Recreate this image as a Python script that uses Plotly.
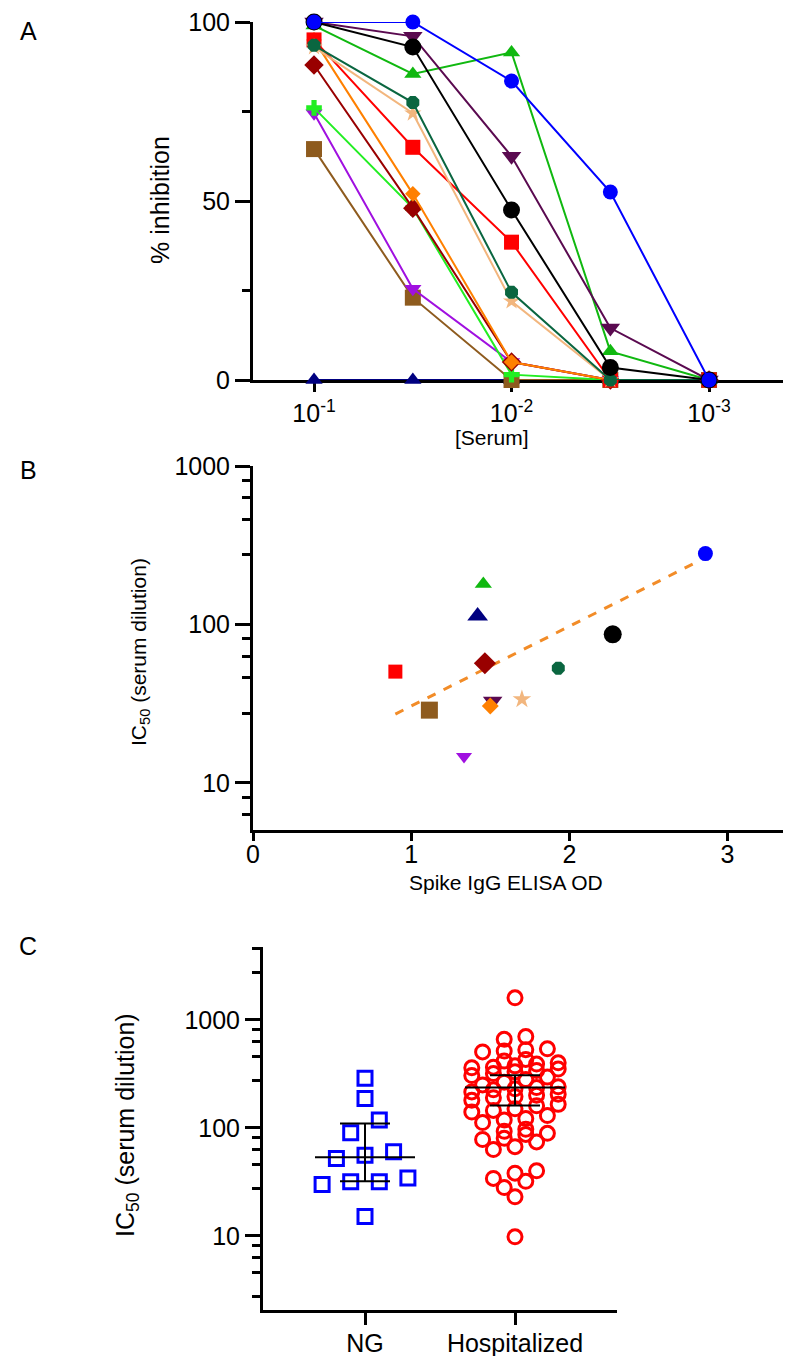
import numpy as np
import plotly.graph_objects as go

# The page body adds an 8 px margin, so the figure is sized/positioned to compensate.
PAGE_W, PAGE_H = 791, 1356
OFF = 8
W, H = PAGE_W - OFF, PAGE_H - OFF
FONT = "Liberation Sans, Arial, sans-serif"

# ---------------- Panel A data ----------------
dilution = [0.1, 0.0316, 0.01, 0.00316, 0.001]
dilution_ticks = [0.1, 0.01, 0.001]
dilution_ticktext = ["10<sup>-1</sup>", "10<sup>-2</sup>", "10<sup>-3</sup>"]

inh_navy = [0, 0, 0, 0, 0]
inh_brown = [64.5, 23, 0, 0, 0]
inh_purple = [74.5, 25.5, 5, 0, 0]
inh_lime = [76, 48, 1.5, 0, 0]
inh_darkred = [88, 48, 5, 0, 0]
inh_orange = [95, 52, 5, 0, 0]
inh_red = [95, 65, 38.5, 0, 0]
inh_tan = [93, 74.5, 22, 0, 0]
inh_darkgreen = [93.5, 77.5, 24.5, 0, 0]
inh_green = [99, 85.5, 91.5, 8, 0]
inh_plum = [100, 96, 62.5, 14.5, 0]
inh_black = [100, 93, 47.5, 3.5, 0]
inh_blue = [100, 100, 83.5, 52.5, 0]

# ---------------- Panel B data ----------------
od_vals = {"navy": 1.42, "brown": 1.115, "purple": 1.334, "darkred": 1.466,
           "orange": 1.50, "red": 0.90, "tan": 1.70, "darkgreen": 1.93,
           "green": 1.456, "plum": 1.515, "black": 2.274, "blue": 2.86}
ic50_vals = {"navy": 113, "brown": 28.8, "purple": 14.7, "darkred": 56.9,
             "orange": 30.6, "red": 50.4, "tan": 33.7, "darkgreen": 53,
             "green": 180, "plum": 32.9, "black": 86.7, "blue": 280}
fit_od = [0.90, 2.83]
fit_ic50 = [27.2, 255]

# ---------------- Panel C data ----------------
groups = ["NG", "Hospitalized"]
ng_ic50 = [288, 187, 118, 90, 60, 55.8, 52, 34.4, 31.6, 31.6, 29.8, 15.1]
hosp_ic50 = [1600, 700, 660, 540, 530, 515, 505, 430, 415, 400, 390, 375, 365,
             360, 350, 340, 330, 318, 305, 295, 280, 265, 250, 240, 236, 230,
             225, 215, 205, 200, 195, 190, 180, 165, 160, 150, 145, 140, 130,
             122, 118, 112, 97, 93, 89, 87, 80, 78, 74, 67, 63, 40, 38, 34, 32,
             28, 23, 9.8]
ng_stats = [53.5, 32, 110]        # median, low, high
hosp_stats = [236, 161, 307]

# ---------------- styles ----------------
colors = {"navy": "#000080", "brown": "#8E5B1E", "purple": "#A010E0",
          "lime": "#22EE22", "darkred": "#990000", "orange": "#FF8000",
          "red": "#FF0000", "tan": "#F2B67E", "darkgreen": "#0A6640",
          "green": "#10B810", "plum": "#5A0A50", "black": "#000000",
          "blue": "#0000FF"}
symbols = {"navy": "triangle-up", "brown": "square", "purple": "triangle-down",
           "lime": "cross", "darkred": "diamond", "orange": "diamond",
           "red": "square", "tan": "star", "darkgreen": "octagon",
           "green": "triangle-up", "plum": "triangle-down", "black": "circle",
           "blue": "circle"}
size_a = {"navy": 15, "brown": 16, "purple": 15, "lime": 13, "darkred": 15,
          "orange": 12, "red": 15, "tan": 13, "darkgreen": 14, "green": 15,
          "plum": 17, "black": 17, "blue": 15}
size_b = {"navy": 18, "brown": 17, "purple": 14, "darkred": 17, "orange": 13,
          "red": 14, "tan": 14, "darkgreen": 14, "green": 15, "plum": 17,
          "black": 18, "blue": 15}

series_a = [("navy", inh_navy), ("brown", inh_brown), ("purple", inh_purple),
            ("lime", inh_lime), ("darkred", inh_darkred), ("orange", inh_orange),
            ("red", inh_red), ("tan", inh_tan), ("darkgreen", inh_darkgreen),
            ("green", inh_green), ("plum", inh_plum), ("black", inh_black),
            ("blue", inh_blue)]

def px_x(p):
    return (p - OFF) / W

def px_y(p):
    return 1 - (p - OFF) / H

fig = go.Figure()

for key, vals in series_a:
    fig.add_trace(go.Scatter(
        x=dilution, y=vals, mode="lines+markers", xaxis="x", yaxis="y",
        line=dict(color=colors[key], width=2),
        marker=dict(symbol=symbols[key], size=size_a[key], color=colors[key]),
        cliponaxis=False, showlegend=False))

# Panel B
fig.add_trace(go.Scatter(x=fit_od, y=fit_ic50, mode="lines", xaxis="x2", yaxis="y2",
                         line=dict(color="#F28C28", width=3, dash="dash"),
                         showlegend=False))
b_order = ["navy", "green", "red", "brown", "purple", "darkred", "plum", "orange",
           "tan", "darkgreen", "black", "blue"]
for key in b_order:
    fig.add_trace(go.Scatter(
        x=[od_vals[key]], y=[ic50_vals[key]], mode="markers", xaxis="x2", yaxis="y2",
        marker=dict(symbol=symbols[key], size=size_b[key], color=colors[key]),
        cliponaxis=False, showlegend=False))

# Panel C geometry (page pixels)
C_TOP, C_BOT = 947, 1310
C_YR = [0.313, 3.675]
C_XR = [-0.68, 1.68]
C_LEFT, C_RIGHT = 263, 617
C_PX_PER_UNIT = (C_RIGHT - C_LEFT) / (C_XR[1] - C_XR[0])

def c_px(v):
    return C_TOP + (C_YR[1] - np.log10(v)) / (C_YR[1] - C_YR[0]) * (C_BOT - C_TOP)

def binned_swarm(vals, bin_h, spacing, max_n):
    order = sorted(range(len(vals)), key=lambda i: vals[i])
    offs = [0.0] * len(vals)
    bins, cur, start = [], [], None
    for i in order:
        p = c_px(vals[i])
        if cur and (start - p > bin_h or len(cur) >= max_n):
            bins.append(cur)
            cur = []
        if not cur:
            start = p
        cur.append(i)
    if cur:
        bins.append(cur)
    for b in bins:
        n = len(b)
        for j, i in enumerate(b):
            offs[i] = (j - (n - 1) / 2) * spacing
    return offs

ng_off = binned_swarm(ng_ic50, 14, 28.6, 6)
hosp_off = binned_swarm(hosp_ic50, 8, 21.6, 5)

fig.add_trace(go.Scatter(
    x=[0 + o / C_PX_PER_UNIT for o in ng_off], y=ng_ic50, mode="markers",
    xaxis="x3", yaxis="y3",
    marker=dict(symbol="square-open", size=14, color="#0000FF", line=dict(width=3)),
    cliponaxis=False, showlegend=False))
fig.add_trace(go.Scatter(
    x=[1 + o / C_PX_PER_UNIT for o in hosp_off], y=hosp_ic50, mode="markers",
    xaxis="x3", yaxis="y3",
    marker=dict(symbol="circle-open", size=14, color="#FF0000", line=dict(width=3)),
    cliponaxis=False, showlegend=False))

med_half = 50 / C_PX_PER_UNIT
cap_half = 25 / C_PX_PER_UNIT
for gi, st in enumerate([ng_stats, hosp_stats]):
    med, lo, hi = st
    xs = [gi - med_half, gi + med_half, None, gi, gi, None,
          gi - cap_half, gi + cap_half, None, gi - cap_half, gi + cap_half]
    ys = [med, med, None, lo, hi, None, lo, lo, None, hi, hi]
    fig.add_trace(go.Scatter(x=xs, y=ys, mode="lines", xaxis="x3", yaxis="y3",
                             line=dict(color="black", width=2),
                             cliponaxis=False, showlegend=False))

def minor_log(k_lo, k_hi):
    out = []
    for k in range(k_lo, k_hi + 1):
        for r in (2.75, 4.6, 6.3, 8.1):
            out.append(r * 10 ** k)
    return out

axis_common = dict(showline=True, linecolor="black", linewidth=3, ticks="outside",
                   tickwidth=3, tickcolor="black", showgrid=False, zeroline=False,
                   automargin=False, ticklabeloverflow="allow",
                   tickfont=dict(family=FONT, size=25, color="black"))

fig.update_layout(
    template="none",
    width=W, height=H, autosize=False,
    margin=dict(l=0, r=0, t=0, b=0, pad=0),
    paper_bgcolor="white", plot_bgcolor="white",
    font=dict(family=FONT, color="black"),
    xaxis=dict(domain=[px_x(253), 1], type="log", range=[-0.691, -3.415],
               tickmode="array", tickvals=dilution_ticks, ticktext=dilution_ticktext,
               ticklen=9, anchor="y", layer="below traces", **axis_common),
    yaxis=dict(domain=[px_y(380), px_y(22)], range=[0, 100], tickmode="array",
               tickvals=[0, 50, 100], ticklen=15, anchor="x",
               minor=dict(tickvals=[25, 75], ticklen=8, tickwidth=3,
                          tickcolor="black", ticks="outside"),
               **axis_common),
    xaxis2=dict(domain=[px_x(253), 1], range=[0, 3.401], tickmode="array",
                tickvals=[0, 1, 2, 3], ticklen=8, ticklabelstandoff=-8,
                anchor="y2", **axis_common),
    yaxis2=dict(domain=[px_y(830), px_y(466)], type="log", range=[0.703, 3.0],
                tickmode="array", tickvals=[10, 100, 1000],
                ticktext=["10", "100", "1000"], ticklen=15, anchor="x2",
                minor=dict(tickvals=minor_log(0, 2), ticklen=8, tickwidth=3,
                           tickcolor="black", ticks="outside"),
                **axis_common),
    xaxis3=dict(domain=[px_x(C_LEFT), px_x(C_RIGHT)], range=C_XR, tickmode="array",
                tickvals=[0, 1], ticktext=groups, ticklen=12, ticklabelstandoff=-3,
                anchor="y3", **axis_common),
    yaxis3=dict(domain=[px_y(C_BOT), px_y(C_TOP)], type="log", range=C_YR,
                tickmode="array", tickvals=[10, 100, 1000],
                ticktext=["10", "100", "1000"], ticklen=15, anchor="x3",
                minor=dict(tickvals=minor_log(0, 3), ticklen=8, tickwidth=3,
                           tickcolor="black", ticks="outside"),
                **axis_common),
)

def ann(text, x, y, size, angle=0):
    fig.add_annotation(text=text, x=px_x(x), y=px_y(y), xref="paper", yref="paper",
                       showarrow=False, textangle=angle,
                       font=dict(family=FONT, size=size, color="black"),
                       xanchor="center", yanchor="middle")

ann("A", 28, 31, 25)
ann("B", 28, 470, 25)
ann("C", 28, 946, 25)
ann("% inhibition", 160, 200, 25, -90)
ann("[Serum]", 492, 437, 21)
ann("IC<sub>50</sub> (serum dilution)", 140, 652, 21, -90)
ann("Spike IgG ELISA OD", 506, 882, 21)
ann("IC<sub>50</sub> (serum dilution)", 127, 1125, 25, -90)

fig.write_html("out.html")
